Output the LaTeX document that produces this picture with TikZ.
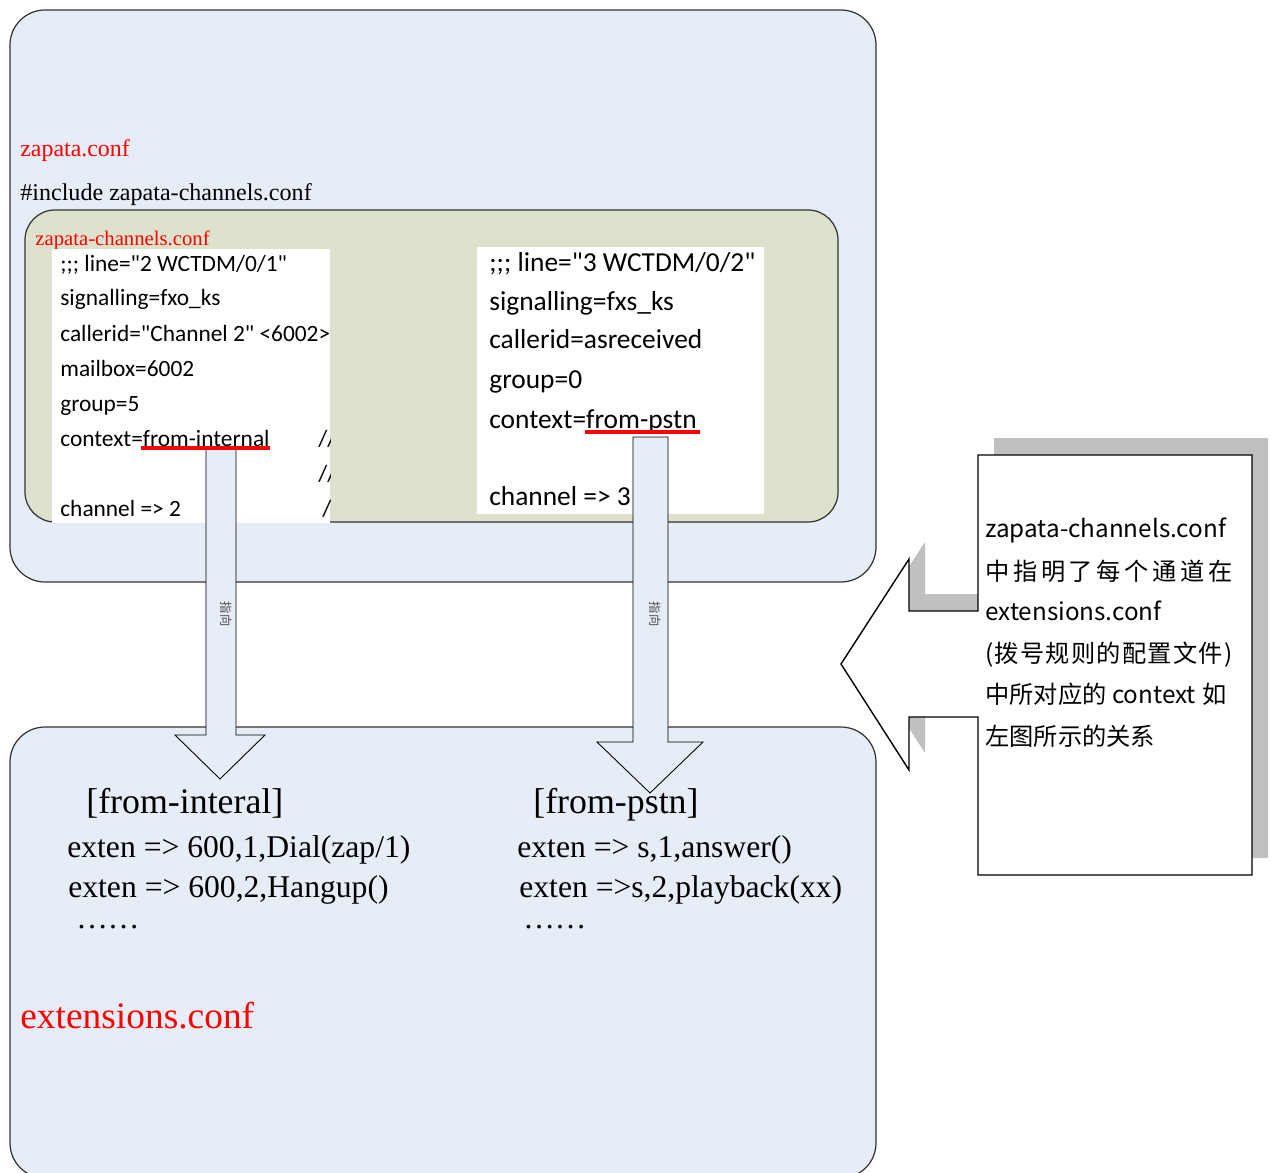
\documentclass[tikz,border=0pt]{standalone}
\usepackage{fontspec}
\setmainfont{Liberation Serif}
\newfontfamily\codefont{Carlito}[Ligatures=TeXOff]
\newfontfamily\cjk{Noto Sans CJK SC}[Ligatures=TeXOff]
\definecolor{boxblue}{RGB}{230,237,247}
\definecolor{boxgreen}{RGB}{221,226,204}
\definecolor{shadowgray}{RGB}{192,192,192}
\tikzset{
  conf/.style={draw=black!80,line width=0.7pt,rounded corners=0.7cm},
  txt/.style={anchor=base west,inner sep=0pt},
  lineL/.style={txt,font=\codefont\fontsize{13.3}{16}\selectfont},
  lineR/.style={txt,font=\codefont\fontsize{15.6}{18}\selectfont},
  exten/.style={txt,font=\fontsize{18}{21}\selectfont},
  sect/.style={txt,font=\fontsize{20.4}{24}\selectfont},
  note/.style={txt,font=\cjk\fontsize{13.8}{16}\selectfont},
  blockarrow/.style={draw=black,fill=boxblue,line width=0.5pt},
  pointer/.style={rotate=-90,inner sep=0pt,text=black!70,font=\cjk\fontsize{7}{8}\selectfont},
  redline/.style={draw=red,line width=1.8pt}
}

\begin{document}
\begin{tikzpicture}[x=0.02cm,y=-0.02cm]
  \useasboundingbox (0,0) rectangle (1276,1173);

  % zapata.conf
  \draw[conf,fill=boxblue] (10,10) rectangle (876,582);
  \node[txt,text=red,font=\fontsize{13.6}{16}\selectfont] (zapata) at (20,156) {zapata.conf};
  \node[txt,font=\fontsize{13.7}{16}\selectfont] (include) at (20,200) {\#include zapata-channels.conf};

  % zapata-channels.conf
  \draw[conf,fill=boxgreen,rounded corners=0.6cm] (25,210) rectangle (838,522);
  \node[txt,text=red,font=\fontsize{11.8}{14}\selectfont] (chanfile) at (35,245) {zapata-channels.conf};
  \fill[white] (52,249) rectangle (330,523);
  \fill[white] (477,247) rectangle (764,514);

  \begin{scope}
    \clip (52,249) rectangle (330,523);
    \node[lineL] (lineA) at (60,271) {;;; line="2 WCTDM/0/1"};
    \node[lineL] (sigA) at (60,305) {signalling=fxo\_ks};
    \node[lineL] (cidA) at (60,341) {callerid="Channel 2" <6002>};
    \node[lineL] (mboxA) at (60,376) {mailbox=6002};
    \node[lineL] (grpA) at (60,411) {group=5};
    \node[lineL] (ctxA) at (60,446) {context=from-internal};
    \node[lineL] (chA) at (60,516) {channel => 2};
    \node[lineL] (cmA) at (318,446) {//};
    \node[lineL] (cmB) at (318,481) {//};
    \node[lineL] (cmC) at (322,516) {/};
  \end{scope}

  \node[lineR] (lineB) at (489,271) {;;; line="3 WCTDM/0/2"};
  \node[lineR] (sigB) at (489,310) {signalling=fxs\_ks};
  \node[lineR] (cidB) at (489,348) {callerid=asreceived};
  \node[lineR] (grpB) at (489,388) {group=0};
  \node[lineR] (ctxB) at (489,428) {context=from-pstn};
  \node[lineR] (chB) at (489,505) {channel => 3};

  % extensions.conf
  \draw[conf,fill=boxblue] (10,727) rectangle (876,1178);

  % block arrows
  \draw[blockarrow] (206,448) -- (236,448) -- (236,735) -- (265,735)
    -- (220,779) -- (175,735) -- (206,735) -- cycle;
  \draw[blockarrow] (633,437) -- (668,437) -- (668,742) -- (703,742)
    -- (650,793) -- (597,742) -- (633,742) -- cycle;
  \node[pointer] (ptA) at (226,614) {指向};
  \node[pointer] (ptB) at (655,614) {指向};

  \draw[redline] (141,448) -- (270,448);
  \draw[redline] (585,432) -- (700,432);

  \node[sect] (fromint) at (86,813) {[from-interal]};
  \node[exten] (extA) at (67,857) {exten => 600,1,Dial(zap/1)};
  \node[exten] (extB) at (68,897) {exten => 600,2,Hangup()};
  \node[exten] (dotsA) at (76,928) {……};
  \node[sect] (frompstn) at (533,813) {[from-pstn]};
  \node[exten] (extC) at (517,857) {exten => s,1,answer()};
  \node[exten] (extD) at (519,897) {exten =>s,2,playback(xx)};
  \node[exten] (dotsB) at (523,928) {……};
  \node[txt,text=red,font=\fontsize{21.3}{25}\selectfont] (extfile) at (20,1028) {extensions.conf};

  % callout
  \fill[shadowgray,shift={(16,-17)}] (978,455) -- (1252,455) -- (1252,875) -- (978,875)
    -- (978,717) -- (909,717) -- (909,770) -- (841,664) -- (909,559)
    -- (909,611) -- (978,611) -- cycle;
  \draw[fill=white,line width=0.8pt] (978,455) -- (1252,455) -- (1252,875) -- (978,875)
    -- (978,717) -- (909,717) -- (909,770) -- (841,664) -- (909,559)
    -- (909,611) -- (978,611) -- cycle;
  \node[note] (noteA) at (985,537) {zapata-channels.conf};
  \node[note] (noteB) at (985,580) {\makebox[4.94cm][l]{中\hfill 指\hfill 明\hfill 了\hfill 每\hfill 个\hfill 通\hfill 道\hfill 在}};
  \node[note] (noteC) at (985,620) {extensions.conf};
  \node[note] (noteD) at (985,662) {\makebox[4.94cm][l]{(\hfill 拨\hfill 号\hfill 规\hfill 则\hfill 的\hfill 配\hfill 置\hfill 文\hfill 件\hfill )}};
  \node[note] (noteE) at (985,703) {中所对应的 context\hspace{0.02cm} 如};
  \node[note] (noteF) at (985,745) {左图所示的关系};
\end{tikzpicture}
\end{document}
